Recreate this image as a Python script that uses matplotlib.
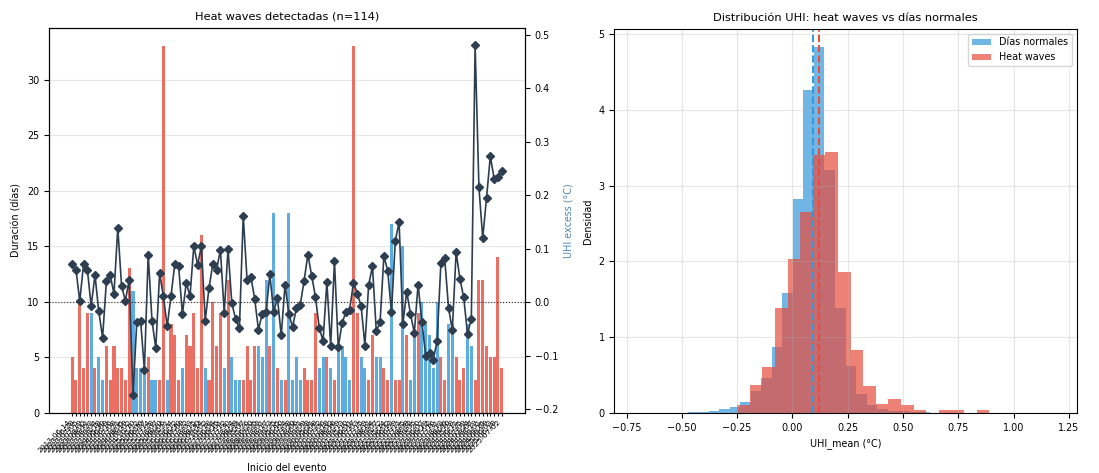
import numpy as np
import matplotlib
matplotlib.use("Agg")
from matplotlib import pyplot as plt

# --- left panel: detected heat waves -------------------------------------
fechas = [
    "2013-06-14", "2013-06-28", "2013-07-05", "2013-07-19", "2013-08-02", "2013-08-11",
    "2013-08-23", "2013-09-04", "2013-09-18", "2014-05-30", "2014-06-09", "2014-06-16",
    "2014-07-08", "2014-07-21", "2014-08-05", "2014-08-19", "2014-09-02", "2014-10-10",
    "2015-05-12", "2015-06-06", "2015-06-27", "2015-07-14", "2015-07-28", "2015-08-07",
    "2015-08-20", "2015-09-06", "2015-09-21", "2016-05-24", "2016-06-12", "2016-06-30",
    "2016-07-09", "2016-07-22", "2016-08-03", "2016-08-15", "2016-08-30", "2016-09-14",
    "2016-10-02", "2017-05-18", "2017-06-04", "2017-06-15", "2017-07-01", "2017-07-12",
    "2017-07-30", "2017-08-14", "2017-08-28", "2017-09-11", "2018-05-07", "2018-05-26",
    "2018-06-20", "2018-07-05", "2018-07-23", "2018-08-01", "2018-08-17", "2018-09-03",
    "2018-09-25", "2019-05-15", "2019-06-10", "2019-06-24", "2019-07-08", "2019-07-20",
    "2019-08-06", "2019-08-21", "2019-09-09", "2019-09-28", "2020-05-21", "2020-06-08",
    "2020-06-22", "2020-07-06", "2020-07-18", "2020-08-02", "2020-08-16", "2020-08-29",
    "2020-09-13", "2021-05-10", "2021-06-01", "2021-06-17", "2021-07-03", "2021-07-15",
    "2021-07-29", "2021-08-11", "2021-08-24", "2021-09-07", "2021-09-22", "2022-05-14",
    "2022-06-02", "2022-06-13", "2022-06-29", "2022-07-11", "2022-07-25", "2022-08-08",
    "2022-08-22", "2022-09-05", "2023-05-20", "2023-06-07", "2023-06-19", "2023-07-02",
    "2023-07-16", "2023-07-31", "2023-08-13", "2023-08-26", "2023-09-10", "2024-05-28",
    "2024-06-11", "2024-06-25", "2024-07-09", "2024-07-24", "2024-08-07", "2024-08-19",
    "2024-09-01", "2024-09-15", "2024-09-29", "2025-06-03", "2025-06-18", "2025-07-02",
]

duracion = [
    5, 3, 10, 4, 9, 9, 4, 5, 3, 6,
    3, 6, 4, 4, 3, 13, 11, 4, 4, 4,
    5, 3, 3, 3, 33, 3, 8, 7, 3, 4,
    7, 6, 9, 4, 16, 4, 3, 10, 6, 9,
    4, 12, 5, 3, 3, 3, 6, 3, 6, 6,
    5, 12, 6, 18, 4, 3, 3, 18, 3, 5,
    3, 4, 3, 3, 9, 4, 5, 5, 4, 3,
    6, 6, 5, 3, 33, 9, 5, 4, 3, 7,
    5, 5, 4, 3, 17, 3, 3, 15, 7, 3,
    7, 9, 10, 8, 7, 4, 10, 5, 3, 8,
    8, 5, 3, 4, 8, 6, 3, 12, 12, 6,
    5, 5, 14, 4,
]

uhi_excess = [
    0.072, 0.061, 0.002, 0.072, 0.061, -0.007, 0.051, -0.017, -0.066, 0.039,
    0.051, 0.016, 0.139, 0.030, 0.003, 0.042, -0.174, -0.036, -0.034, -0.126,
    0.089, -0.034, -0.086, 0.054, 0.011, -0.045, 0.012, 0.072, 0.068, -0.022,
    0.036, 0.012, 0.105, 0.070, 0.105, -0.034, 0.027, 0.072, 0.061, 0.098,
    -0.020, 0.100, -0.002, -0.031, -0.048, 0.162, 0.042, 0.048, 0.007, -0.051,
    -0.022, -0.018, 0.052, -0.018, 0.008, -0.062, 0.033, -0.022, -0.046, -0.010,
    -0.005, 0.040, 0.089, 0.050, 0.010, -0.048, -0.072, 0.038, -0.081, 0.077,
    -0.084, -0.039, -0.018, -0.014, 0.037, 0.016, -0.006, -0.081, 0.033, 0.067,
    -0.054, -0.037, 0.087, 0.059, -0.018, 0.115, 0.150, -0.040, 0.020, -0.022,
    -0.057, 0.033, -0.037, -0.100, -0.094, -0.107, -0.072, 0.074, 0.082, -0.010,
    -0.052, 0.094, 0.044, 0.009, -0.059, -0.031, 0.480, 0.215, 0.120, 0.195,
    0.273, 0.231, 0.234, 0.245,
]

# --- right panel: UHI distribution (density per bin) ---------------------
normal_rango = (-0.71, 1.19)
normal_dens = [
    0.0, 0.0, 0.0, 0.002, 0.004, 0.006, 0.012, 0.02, 0.05, 0.075,
    0.14, 0.29, 0.46, 0.87, 1.59, 2.83, 4.27, 4.83, 3.21, 1.39,
    0.62, 0.25, 0.11, 0.05, 0.03, 0.02, 0.01, 0.006, 0.004, 0.003,
    0.002, 0.002, 0.001, 0.001, 0.001, 0.0, 0.0, 0.0, 0.0, 0.001,
]
hw_rango = (-0.25, 0.89)
hw_dens = [
    0.10, 0.37, 0.60, 1.38, 2.03, 2.65, 3.41, 3.44, 1.86, 0.83,
    0.36, 0.12, 0.18, 0.10, 0.035, 0.0, 0.045, 0.045, 0.0, 0.045,
]
media_normal = 0.092
media_hw = 0.118

ROJO = "#e74c3c"
AZUL = "#3498db"
OSCURO = "#2c3e50"

plt.rcParams["font.size"] = 6.9

fig = plt.figure(figsize=(10.99, 4.73), dpi=100)
ax1 = fig.add_axes([0.0446, 0.127, 0.433, 0.814])
ax3 = fig.add_axes([0.559, 0.127, 0.4207, 0.812])

x = np.arange(len(duracion))
colores = [ROJO if u > 0 else AZUL for u in uhi_excess]
ax1.bar(x, duracion, color=colores, alpha=0.8, width=0.8)
ax1.set_ylabel("Duración (días)")
ax1.set_title("Heat waves detectadas (n=114)", fontsize=8.2)
ax1.set_xticks(x)
ax1.set_xticklabels(fechas, rotation=45, ha="right", fontsize=5.4)
ax1.tick_params(axis="x", length=2.5, pad=1.5)
ax1.set_xlabel("Inicio del evento", labelpad=0)
ax1.xaxis.set_label_coords(0.5, -0.13)
ax1.grid(axis="y", alpha=0.3)
ax1.set_axisbelow(True)

ax2 = ax1.twinx()
ax2.plot(x, uhi_excess, color=OSCURO, marker="D", markersize=4, linewidth=1.2)
ax2.axhline(0, color="#333333", linestyle=":", linewidth=0.8)
ax2.set_ylabel("UHI excess (°C)", color="#4f86b0")

bins_n = np.linspace(normal_rango[0], normal_rango[1], len(normal_dens) + 1)
bins_h = np.linspace(hw_rango[0], hw_rango[1], len(hw_dens) + 1)
ax3.hist(bins_n[:-1], bins=bins_n, weights=normal_dens, color=AZUL, alpha=0.7,
         label="Días normales")
ax3.hist(bins_h[:-1], bins=bins_h, weights=hw_dens, color=ROJO, alpha=0.7,
         label="Heat waves")
ax3.axvline(media_normal, color=AZUL, linestyle="--", linewidth=1.4)
ax3.axvline(media_hw, color=ROJO, linestyle="--", linewidth=1.4)
ax3.set_xlabel("UHI_mean (°C)")
ax3.set_ylabel("Densidad")
ax3.set_title("Distribución UHI: heat waves vs días normales", fontsize=8.2)
ax3.set_xticks([-0.75, -0.5, -0.25, 0, 0.25, 0.5, 0.75, 1.0, 1.25])
ax3.legend(loc="upper right")
ax3.grid(alpha=0.3)

fig.savefig("out.png", dpi=100)
